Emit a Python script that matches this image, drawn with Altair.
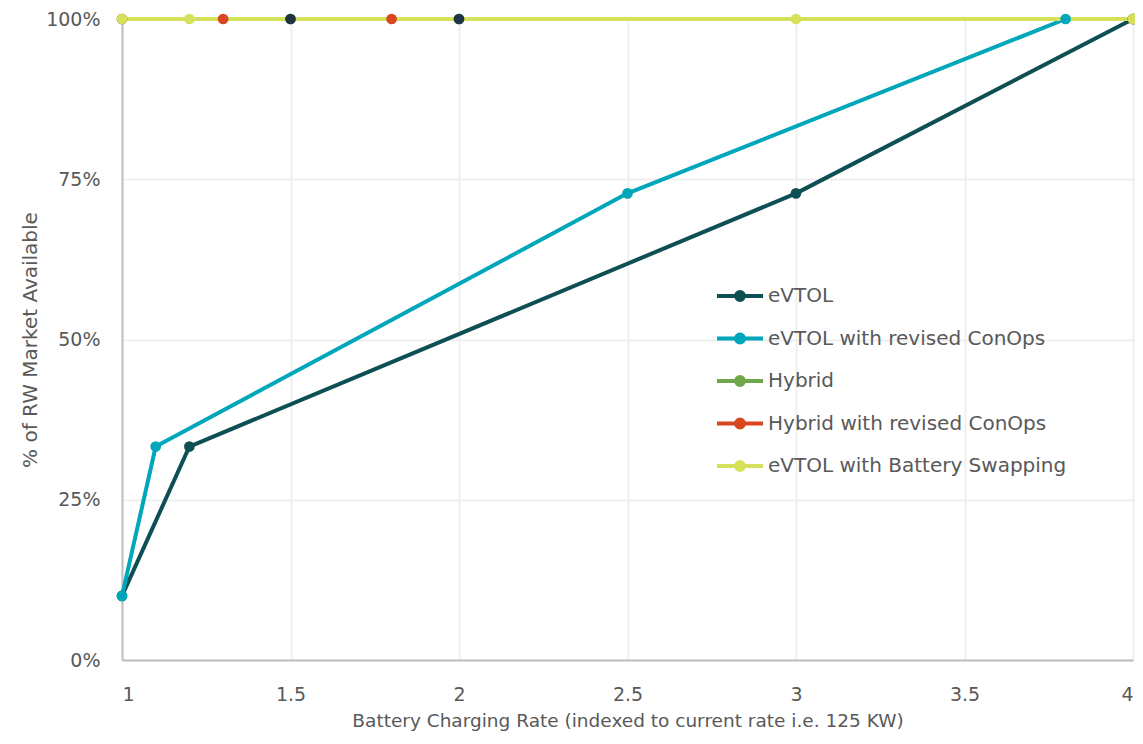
import altair as alt
import pandas as pd

series_names = [
    "eVTOL",
    "eVTOL with revised ConOps",
    "Hybrid",
    "Hybrid with revised ConOps",
    "eVTOL with Battery Swapping",
]
series_colors = ["#0d4f55", "#00a6b9", "#6fa84a", "#d8471d", "#d5e15b"]

x_evtol = [1, 1.2, 3, 4]
y_evtol = [0.10, 0.333, 0.728, 1.0]

x_evtol_rev = [1, 1.1, 2.5, 3.8]
y_evtol_rev = [0.10, 0.333, 0.728, 1.0]

x_hybrid = [1, 1.5, 2, 4]
y_hybrid = [1.0, 1.0, 1.0, 1.0]

x_hybrid_rev = [1, 1.3, 1.8, 4]
y_hybrid_rev = [1.0, 1.0, 1.0, 1.0]

x_swap = [1, 1.2, 3, 4]
y_swap = [1.0, 1.0, 1.0, 1.0]

# Hybrid markers at 1.5 and 2 are drawn dark navy in the reference
hybrid_dark_marker = [False, True, True, False]
dark_marker_color = "#1f3545"

x_ticks = [1, 1.5, 2, 2.5, 3, 3.5, 4]
y_ticks = [0, 0.25, 0.5, 0.75, 1.0]

all_x = [x_evtol, x_evtol_rev, x_hybrid, x_hybrid_rev, x_swap]
all_y = [y_evtol, y_evtol_rev, y_hybrid, y_hybrid_rev, y_swap]

rows = []
for s, (name, xs, ys) in enumerate(zip(series_names, all_x, all_y)):
    for i, (xv, yv) in enumerate(zip(xs, ys)):
        dark = hybrid_dark_marker[i] if name == "Hybrid" else False
        rows.append({"series": name, "x": xv, "y": yv, "idx": i, "s": s, "dark": dark})
df = pd.DataFrame(rows)

FONT = "DejaVu Sans"
TXT = "#595959"

legend_path = ("M-1,0L1,0M-0.17,0A0.17,0.17,0,1,1,0.17,0"
               "A0.17,0.17,0,1,1,-0.17,0Z")


def make_legend():
    return alt.Legend(
        title=None,
        orient="none",
        legendX=593,
        legendY=252,
        padding=0,
        symbolType=legend_path,
        symbolSize=2116,
        symbolStrokeWidth=4,
        labelFont=FONT,
        labelFontSize=20,
        labelColor=TXT,
        labelOffset=3,
        rowPadding=5.5,
        labelLimit=400,
    )


color_scale = alt.Scale(domain=series_names, range=series_colors)

x_enc = alt.X(
    "x:Q",
    scale=alt.Scale(domain=[1, 4], nice=False, zero=False),
    axis=alt.Axis(
        values=x_ticks,
        format="~g",
        title="Battery Charging Rate (indexed to current rate i.e. 125 KW)",
        grid=True,
        gridColor="#efefef",
        gridWidth=2,
        domainColor="#bfbfbf",
        domainWidth=2,
        ticks=False,
        labelPadding=25,
        titlePadding=7,
        labelFont=FONT,
        labelFontSize=19,
        labelColor=TXT,
        titleFont=FONT,
        titleFontSize=18.5,
        titleFontWeight="normal",
        titleColor=TXT,
    ),
)

y_enc = alt.Y(
    "y:Q",
    scale=alt.Scale(domain=[0, 1], nice=False),
    axis=alt.Axis(
        values=y_ticks,
        format=".0%",
        title="% of RW Market Available",
        grid=True,
        gridColor="#efefef",
        gridWidth=2,
        domainColor="#bfbfbf",
        domainWidth=2,
        ticks=False,
        labelPadding=22,
        titlePadding=5,
        labelFont=FONT,
        labelFontSize=19,
        labelColor=TXT,
        titleFont=FONT,
        titleFontSize=20,
        titleFontWeight="normal",
        titleColor=TXT,
    ),
)

layers = []
for name in series_names:
    layers.append(
        alt.Chart(df)
        .transform_filter(alt.datum.series == name)
        .mark_line(strokeWidth=4, strokeJoin="round", strokeCap="round")
        .encode(
            x=x_enc,
            y=y_enc,
            color=alt.Color("series:N", scale=color_scale, legend=make_legend()),
            order="idx:Q",
        )
    )

points = (
    alt.Chart(df)
    .mark_point(filled=True, size=115, opacity=1, shape="circle")
    .encode(
        x="x:Q",
        y="y:Q",
        fill=alt.Fill("series:N", scale=color_scale, legend=make_legend()),
    )
)
layers.append(points)

dark_points = (
    alt.Chart(df)
    .transform_filter(alt.datum.dark == True)
    .mark_circle(size=115, opacity=1, color=dark_marker_color)
    .encode(x="x:Q", y="y:Q")
)
layers.append(dark_points)

chart = (
    alt.layer(*layers)
    .properties(
        width=1011,
        height=641,
        autosize=alt.AutoSizeParams(type="none"),
        padding={"left": 114, "top": 11, "right": 2, "bottom": 72},
    )
    .configure_view(stroke=None)
    .configure(background="white")
)

chart.save("out.html", embed_options={"renderer": "svg", "actions": False})
